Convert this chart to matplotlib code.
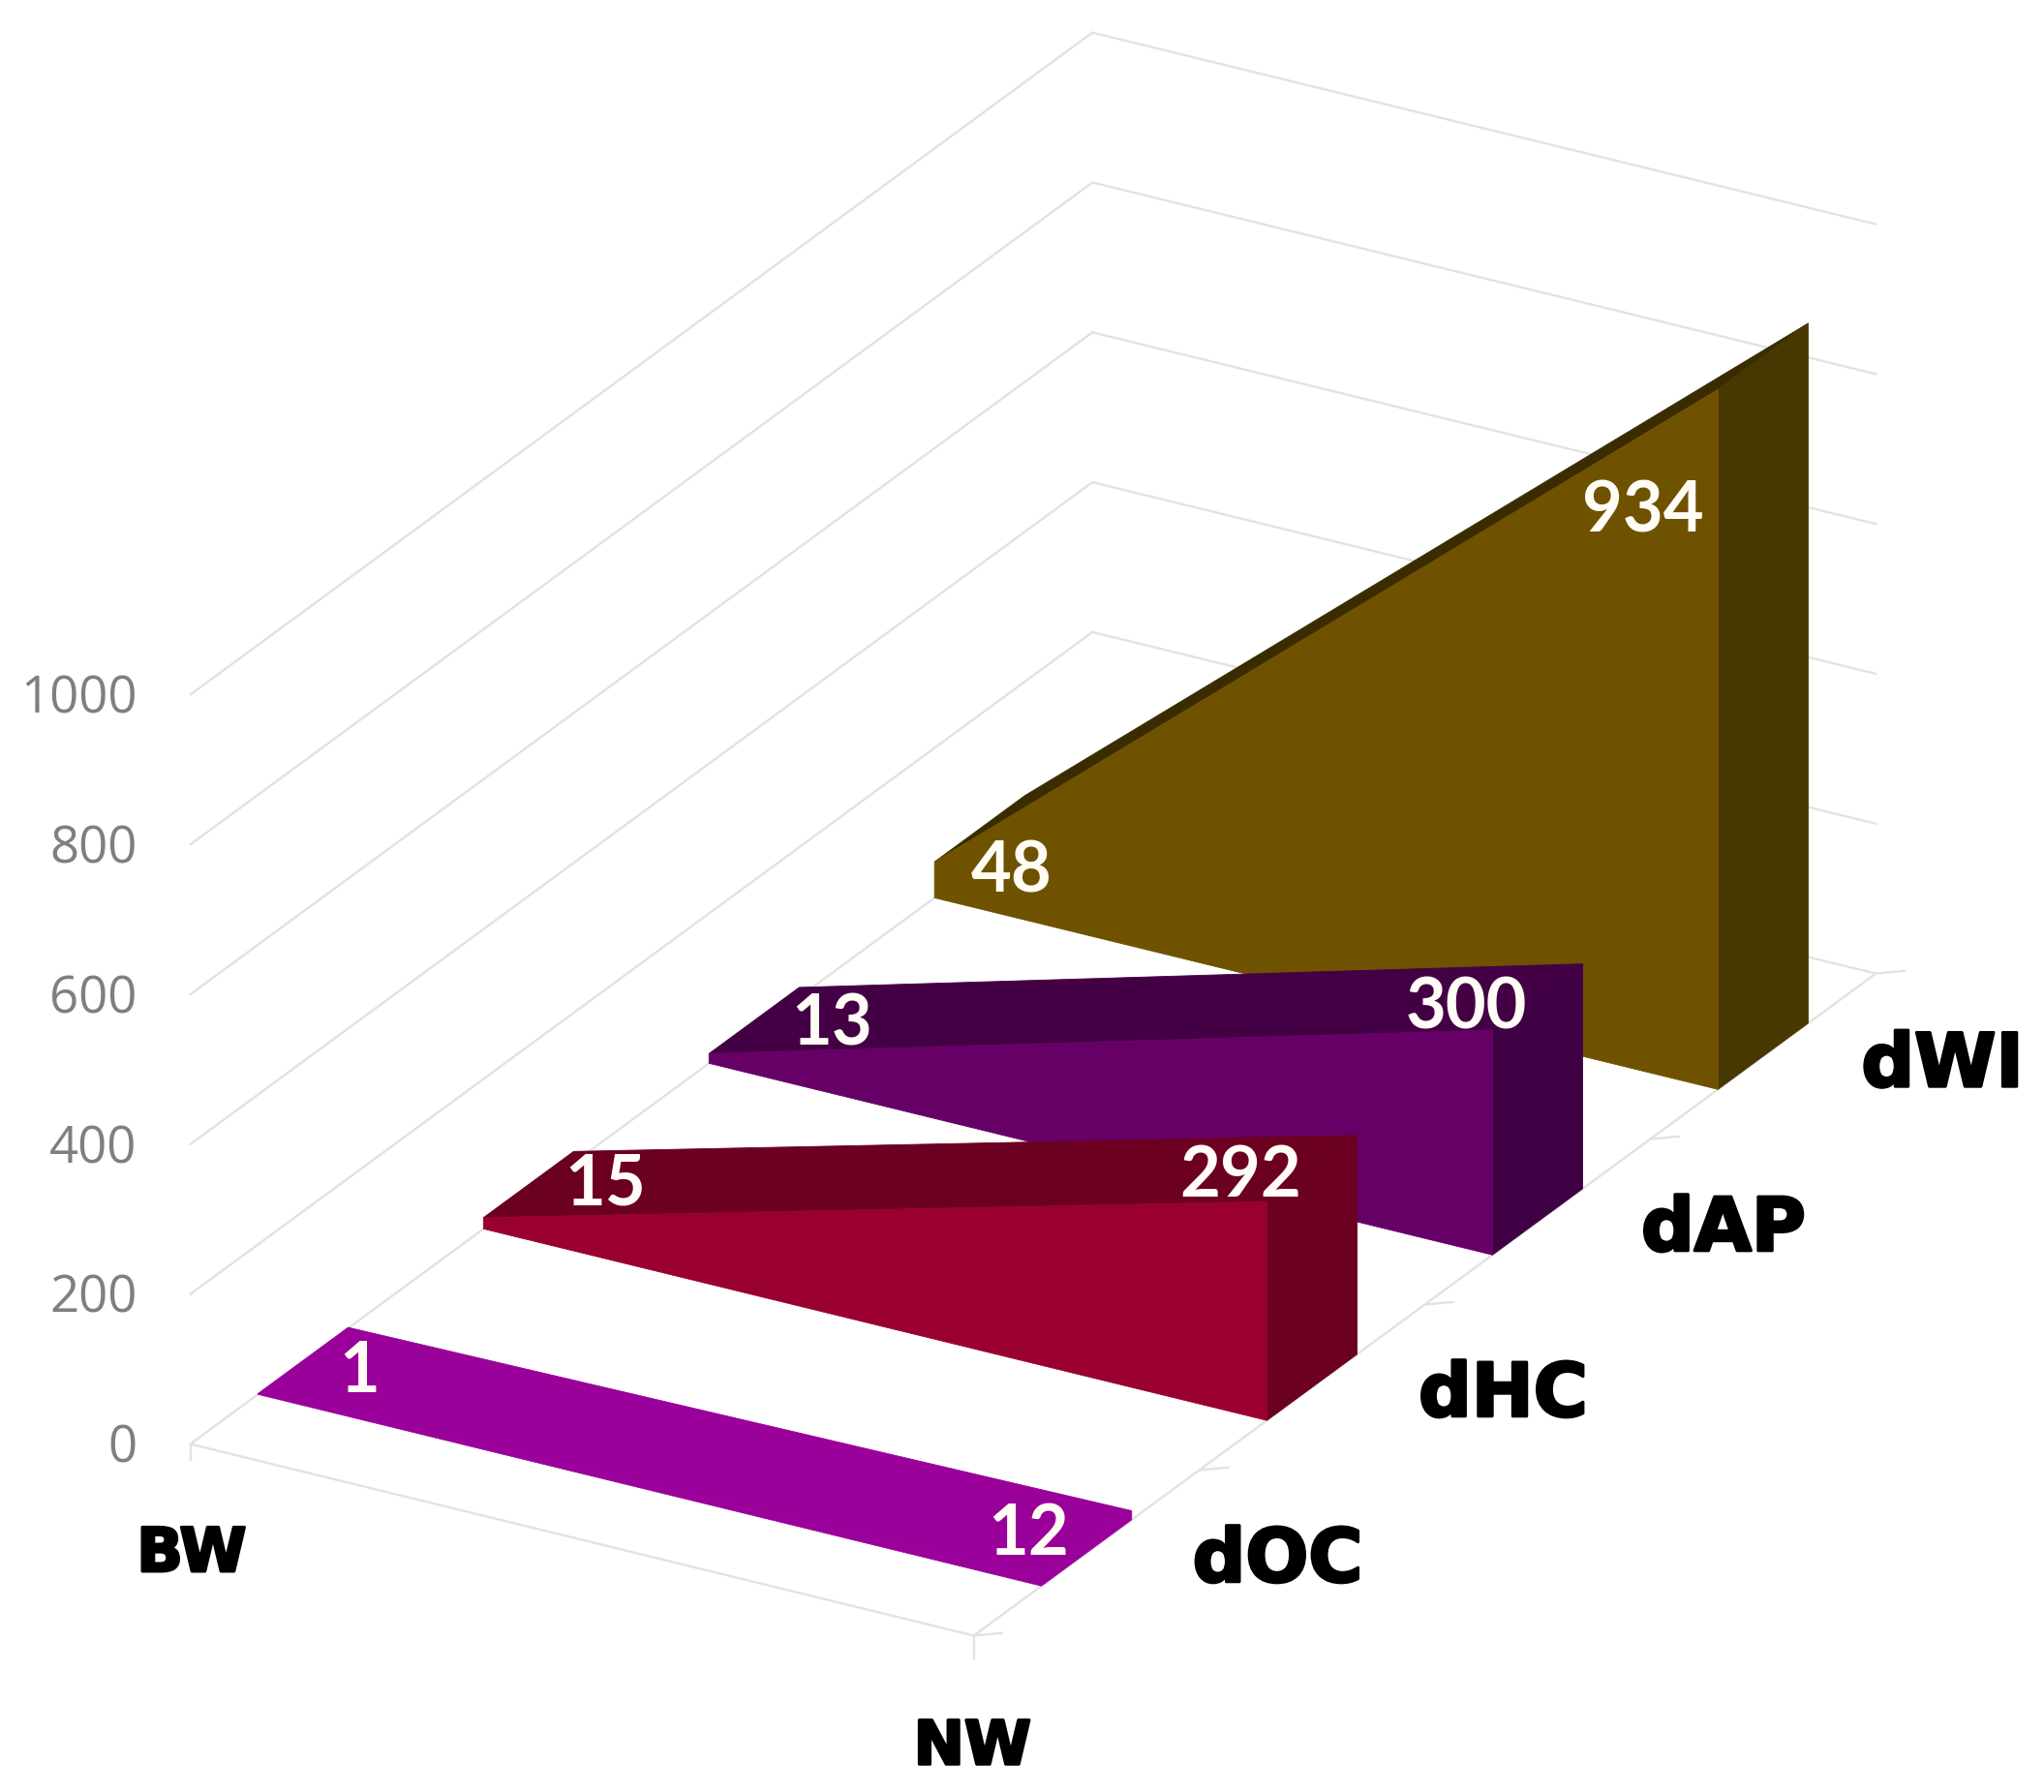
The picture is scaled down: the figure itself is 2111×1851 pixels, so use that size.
import numpy as np
import matplotlib
matplotlib.use("Agg")
import matplotlib.pyplot as plt
import matplotlib.patheffects as pe
from matplotlib.patches import Polygon

# ---- data ----
categories = ["BW", "NW"]
series_names = ["dOC", "dHC", "dAP", "dWI"]
dOC = [1, 12]
dHC = [15, 292]
dAP = [13, 300]
dWI = [48, 934]
value_ticks = [0, 200, 400, 600, 800, 1000]

# ---- styles ----
front_colors = ["#9A009A", "#990030", "#660066", "#6E5200"]
top_colors = ["#9A009A", "#6B0020", "#440044", "#3A2C00"]
side_colors = ["#9A009A", "#6B0020", "#3F0044", "#473700"]
GRID = "#E2E2E2"

# ---- oblique projection of the chart box, in reference pixels (1568 wide frame) ----
ORIGIN = np.array([146.0, 1108.0])
E_CAT = np.array([601.0, 147.0])      # BW -> NW
E_DEPTH = np.array([173.0, -127.0])   # one series band
E_VAL = np.array([0.0, -115.0 / 200]) # per unit of value
BAND_FRONT, BAND_BACK = 0.30, 0.70


def project(cat, depth, value):
    return ORIGIN + cat * E_CAT + depth * E_DEPTH + value * E_VAL


fig = plt.figure(figsize=(21.11, 18.51), dpi=100)
ax = fig.add_axes([0, 0, 1, 1])
ax.set_xlim(0, 1568)
ax.set_ylim(1375, 0)
ax.axis("off")


def seg(p, q, color=GRID, lw=1.7, z=1):
    ax.plot([p[0], q[0]], [p[1], q[1]], color=color, lw=lw, zorder=z,
            solid_capstyle="round")


n = len(series_names)
for v in value_ticks:
    seg(project(0, 0, v), project(0, n, v))
    seg(project(0, n, v), project(1, n, v))
seg(project(0, 0, 0), project(1, 0, 0))
seg(project(1, 0, 0), project(1, n, 0))
# tick marks
seg(project(0, 0, 0), project(0, 0, 0) + np.array([0, 12]))
seg(project(1, 0, 0), project(1, 0, 0) + np.array([0, 18]))
for i in range(n + 1):
    p = project(1, i, 0)
    seg(p, p + np.array([22, -2]))

# value axis labels
for v in value_ticks:
    p = project(0, 0, v)
    ax.text(105, p[1] + 4, str(v), ha="right", va="center", fontsize=38,
            family="Open Sans", color="#7F7F7F")

# ribbons, back to front
all_series = [dOC, dHC, dAP, dWI]
for i in reversed(range(n)):
    v0, v1 = all_series[i]
    f, b = i + BAND_FRONT, i + BAND_BACK
    z = 10 + (n - i) * 2
    top = [project(0, f, v0), project(0, b, v0), project(1, b, v1), project(1, f, v1)]
    side = [project(1, f, 0), project(1, b, 0), project(1, b, v1), project(1, f, v1)]
    front = [project(0, f, 0), project(1, f, 0), project(1, f, v1), project(0, f, v0)]
    for pts, col in ((top, top_colors[i]), (side, side_colors[i]), (front, front_colors[i])):
        ax.add_patch(Polygon(pts, closed=True, facecolor=col, edgecolor=col, lw=0.6, zorder=z))

# data labels
label_values = [dOC[0], dOC[1], dHC[0], dHC[1], dAP[0], dAP[1], dWI[0], dWI[1]]
label_xy = [(276, 1053), (789, 1178), (464, 909), (952, 903),
            (638, 787), (1125, 774), (776, 669), (1260, 393)]
for val, (x, y) in zip(label_values, label_xy):
    ax.text(x, y, str(val), ha="center", va="center", fontsize=52,
            family="Lato", fontweight="bold", color="#FFFDF5", zorder=40)

# category and series labels
heavy = [pe.withStroke(linewidth=2.2, foreground="black")]
cat_xy = [(147, 1193), (746, 1341)]
for name, (x, y) in zip(categories, cat_xy):
    ax.text(x, y, name, ha="center", va="center", fontsize=45,
            family="DejaVu Sans", fontweight="bold", color="black", zorder=40,
            path_effects=heavy)
series_xy = [(980, 1198), (1153, 1071), (1322, 944), (1490, 818)]
for name, (x, y) in zip(series_names, series_xy):
    ax.text(x, y, name, ha="center", va="center", fontsize=55,
            family="DejaVu Sans", fontweight="bold", color="black", zorder=40,
            path_effects=heavy)

fig.savefig("out.png", dpi=100, facecolor="white")
